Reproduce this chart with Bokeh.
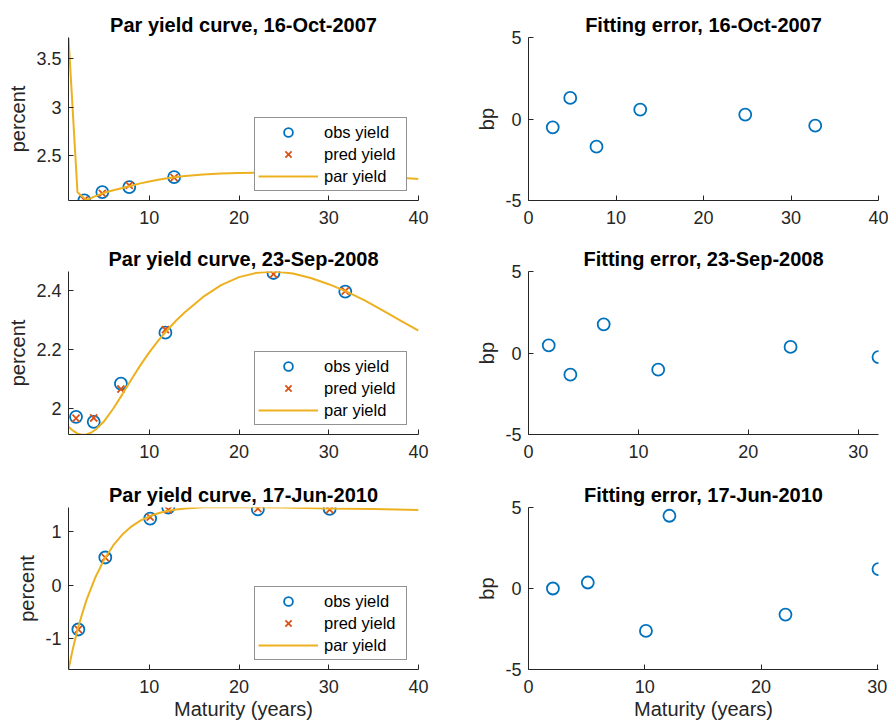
from bokeh.plotting import figure
from bokeh.layouts import column, row
from bokeh.models import Range1d, FixedTicker, Legend, LegendItem
from bokeh.embed import file_html
from bokeh.resources import INLINE

# ---------------- data ----------------
dates = ["16-Oct-2007", "23-Sep-2008", "17-Jun-2010"]

mat_2007 = [2.77, 4.77, 7.77, 12.77, 24.77, 32.77]
obs_2007 = [2.046, 2.131, 2.182, 2.284, 2.328, 2.296]
pred_2007 = [2.051, 2.118, 2.199, 2.278, 2.325, 2.300]
err_2007 = [-0.51, 1.29, -1.70, 0.58, 0.27, -0.41]
par_x_2007 = [1, 2, 3, 4, 5, 6, 7, 8, 9, 10, 11, 12, 13, 14, 16, 18, 20, 22, 24, 26, 28, 30, 32, 34, 36, 38, 40]
par_y_2007 = [3.71, 2.13, 2.048, 2.09, 2.125, 2.15, 2.172, 2.195, 2.22, 2.24, 2.258, 2.273, 2.286, 2.296,
              2.31, 2.32, 2.326, 2.328, 2.327, 2.324, 2.318, 2.31, 2.302, 2.293, 2.285, 2.277, 2.265]

mat_2008 = [1.84, 3.81, 6.84, 11.80, 23.84, 31.84]
obs_2008 = [1.972, 1.955, 2.084, 2.257, 2.459, 2.396]
pred_2008 = [1.967, 1.968, 2.066, 2.267, 2.455, 2.398]
err_2008 = [0.47, -1.33, 1.76, -1.02, 0.37, -0.25]
par_x_2008 = [1, 1.5, 2, 2.5, 3, 3.5, 4, 5, 6, 7, 8, 9, 10, 11, 12, 13, 14, 16, 18, 20, 22, 24, 26, 28, 30, 32, 34, 36, 38, 40]
par_y_2008 = [1.938, 1.925, 1.915, 1.911, 1.912, 1.918, 1.928, 1.958, 2.000, 2.048, 2.098, 2.146, 2.190,
              2.230, 2.265, 2.298, 2.327, 2.378, 2.418, 2.445, 2.460, 2.464, 2.457, 2.442, 2.421, 2.396,
              2.366, 2.332, 2.298, 2.264]

mat_2010 = [2.10, 5.10, 10.10, 12.12, 22.10, 30.10]
obs_2010 = [-0.83, 0.52, 1.25, 1.457, 1.42, 1.43]
pred_2010 = [-0.83, 0.516, 1.276, 1.412, 1.436, 1.418]
err_2010 = [0.0, 0.37, -2.62, 4.49, -1.61, 1.20]
par_x_2010 = [1, 1.5, 2, 2.5, 3, 4, 5, 6, 7, 8, 9, 10, 11, 12, 13, 14, 16, 18, 20, 25, 30, 35, 40]
par_y_2010 = [-1.58, -1.18, -0.84, -0.55, -0.28, 0.15, 0.49, 0.75, 0.95, 1.10, 1.21, 1.29, 1.35, 1.39,
              1.42, 1.44, 1.46, 1.465, 1.463, 1.455, 1.44, 1.43, 1.41]

# axis limits and ticks
curve_xlim = [1, 40]
curve_xticks = [10, 20, 30, 40]
curve_ylims = [[2.045, 3.71], [1.912, 2.464], [-1.58, 1.457]]
curve_yticks = [[2.5, 3, 3.5], [2, 2.2, 2.4], [-1, 0, 1]]
curve_ylabels = [["2.5", "3", "3.5"], ["2", "2.2", "2.4"], ["-1", "0", "1"]]
err_xlims = [[0, 40], [0, 31.84], [0, 30.1]]
err_xticks = [[0, 10, 20, 30, 40], [0, 10, 20, 30], [0, 10, 20, 30]]
err_ylim = [-5, 5]
err_yticks = [-5, 0, 5]

# ---------------- style ----------------
FONT = "Liberation Sans"
AX = "#262626"
C_OBS = "#0072BD"
C_PRED = "#D95319"
C_PAR = "#EDB120"

row_heights = [242, 236, 248]
row_tops = [37, 29, 29]
row_bottoms = [42, 44, 57]


def style(p, xticks, yticks, ylabels=None, xlabel=None, ylabel=None):
    p.xgrid.visible = False
    p.ygrid.visible = False
    p.outline_line_color = None
    p.background_fill_color = "white"
    p.border_fill_color = "white"
    p.title.text_font = FONT
    p.title.text_font_size = "20px"
    p.title.text_font_style = "bold"
    p.title.text_color = "black"
    p.title.align = "center"
    p.title.standoff = 4
    for ax in (p.xaxis[0], p.yaxis[0]):
        ax.axis_line_color = AX
        ax.axis_line_width = 1
        ax.major_tick_line_color = AX
        ax.major_tick_in = 5
        ax.major_tick_out = 0
        ax.minor_tick_line_color = None
        ax.major_label_text_font = FONT
        ax.major_label_text_font_size = "18px"
        ax.major_label_text_color = AX
        ax.axis_label_text_font = FONT
        ax.axis_label_text_font_size = "20px"
        ax.axis_label_text_font_style = "normal"
        ax.axis_label_text_color = AX
    p.xaxis[0].ticker = FixedTicker(ticks=xticks)
    p.xaxis[0].major_label_standoff = 10
    p.xaxis[0].axis_label_standoff = 2
    p.yaxis[0].ticker = FixedTicker(ticks=yticks)
    p.yaxis[0].major_label_standoff = 7
    p.yaxis[0].axis_label_standoff = 4
    if ylabels is not None:
        p.yaxis[0].major_label_overrides = {t: l for t, l in zip(yticks, ylabels)}
    else:
        p.yaxis[0].major_label_overrides = {t: str(t) for t in yticks}
    p.xaxis[0].major_label_overrides = {t: str(t) for t in xticks}
    if xlabel:
        p.xaxis[0].axis_label = xlabel
    if ylabel:
        p.yaxis[0].axis_label = ylabel


def curve_fig(i, mat, obs, pred, px, py):
    p = figure(width=468, height=row_heights[i], output_backend="svg", toolbar_location=None,
               x_range=Range1d(*curve_xlim), y_range=Range1d(*curve_ylims[i]),
               min_border_left=68, min_border_right=50, min_border_top=row_tops[i],
               min_border_bottom=row_bottoms[i],
               title="Par yield curve, " + dates[i])
    style(p, curve_xticks, curve_yticks[i], curve_ylabels[i],
          xlabel="Maturity (years)" if i == 2 else None, ylabel="percent")
    r1 = p.scatter(mat, obs, marker="circle", size=12, fill_color=None,
                   line_color=C_OBS, line_width=1.8)
    r2 = p.scatter(mat, pred, marker="x", size=10, line_color=C_PRED, line_width=1.8)
    r3 = p.line(px, py, line_color=C_PAR, line_width=2)
    leg = Legend(items=[LegendItem(label="obs yield", renderers=[r1]),
                        LegendItem(label="pred yield", renderers=[r2]),
                        LegendItem(label="par yield", renderers=[r3])],
                 location=(186, 9), margin=0, padding=3, spacing=0,
                 glyph_width=60, glyph_height=22, label_height=22, label_width=79,
                 label_standoff=6, label_text_font=FONT, label_text_font_size="16.5px",
                 label_text_color="black", border_line_color=AX, border_line_width=1,
                 background_fill_color="white", background_fill_alpha=1.0)
    p.add_layout(leg)
    return p


def err_fig(i, mat, err):
    p = figure(width=420, height=row_heights[i], output_backend="svg", toolbar_location=None,
               x_range=Range1d(*err_xlims[i]), y_range=Range1d(*err_ylim),
               min_border_left=60, min_border_right=10, min_border_top=row_tops[i],
               min_border_bottom=row_bottoms[i],
               title="Fitting error, " + dates[i])
    style(p, err_xticks[i], err_yticks,
          xlabel="Maturity (years)" if i == 2 else None, ylabel="bp")
    p.scatter(mat, err, marker="circle", size=12, fill_color=None,
              line_color=C_OBS, line_width=1.8)
    return p


rows = []
data = [(mat_2007, obs_2007, pred_2007, err_2007, par_x_2007, par_y_2007),
        (mat_2008, obs_2008, pred_2008, err_2008, par_x_2008, par_y_2008),
        (mat_2010, obs_2010, pred_2010, err_2010, par_x_2010, par_y_2010)]
for i, (m, o, pr, e, px, py) in enumerate(data):
    rows.append(row(curve_fig(i, m, o, pr, px, py), err_fig(i, m, e)))

layout = column(*rows)
open("out.html", "w").write(file_html(layout, INLINE))
